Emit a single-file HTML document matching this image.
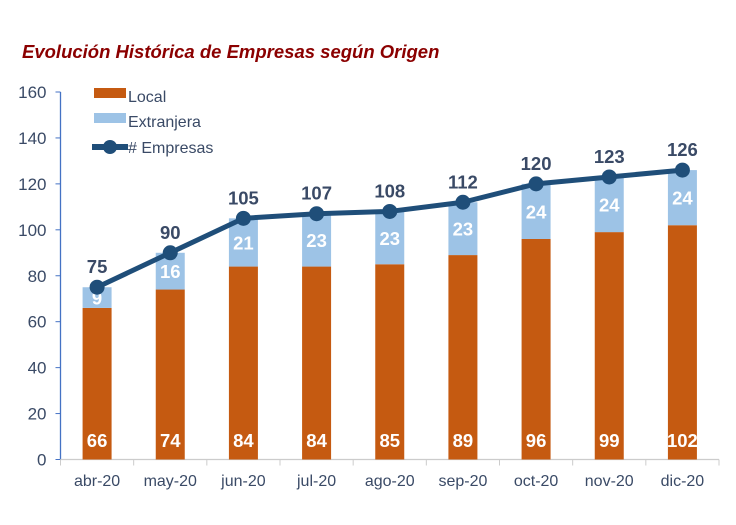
<!DOCTYPE html>
<html><head><meta charset="utf-8"><style>
body{margin:0;background:#fff;width:736px;height:520px;overflow:hidden;font-family:"Liberation Sans",sans-serif}
</style></head><body>
<svg id="c" width="736" height="520">
<text x="22" y="58" fill="#8b0000" font-size="18.5" font-weight="bold" font-style="italic">Evolución Histórica de Empresas según Origen</text>
</svg>
<script>
const categories=["abr-20","may-20","jun-20","jul-20","ago-20","sep-20","oct-20","nov-20","dic-20"];
const local=[66,74,84,84,85,89,96,99,102];
const extranjera=[9,16,21,23,23,23,24,24,24];
const totals=[75,90,105,107,108,112,120,123,126];
const yTicks=[0,20,40,60,80,100,120,140,160];
const NS="http://www.w3.org/2000/svg",svg=document.getElementById('c');
const x0=60.5,x1=719,y0=459.5,y1=92;
const step=(x1-x0)/categories.length;
const xc=i=>x0+step*(i+0.5);
const y=v=>y0-(v/160)*(y0-y1);
function mk(t,a,txt){const e=document.createElementNS(NS,t);for(const k in a)e.setAttribute(k,a[k]);if(txt!==undefined)e.textContent=txt;svg.appendChild(e);return e;}
yTicks.forEach(v=>{
 const t=mk('line',{x1:x0-5,x2:x0,y1:y(v),y2:y(v),stroke:'#4472c4'});
 
 
 const l=mk('text',{x:x0-14,y:y(v)+6,'text-anchor':'end','font-size':17,fill:'#3a4a66'},v);
 
 
});
const ya=mk('line',{x1:x0,x2:x0,y1:y1,y2:y0,stroke:'#4472c4','stroke-width':1.3});


const xa=mk('line',{x1:x0,x2:x1,y1:y0,y2:y0,stroke:'#cccccc','stroke-width':1.3});


for(let i=0;i<=categories.length;i++){const t=mk('line',{x1:x0+step*i,x2:x0+step*i,y1:y0,y2:y0+6,stroke:'#cccccc'});
 
 }
const bw=29;
categories.forEach((c,i)=>{
 const cx=xc(i);
 const b1=mk('rect',{x:cx-bw/2,y:y(local[i]),width:bw,height:y0-y(local[i]),fill:'#c55a11'});
 
 
 const top=local[i]+extranjera[i];
 const b2=mk('rect',{x:cx-bw/2,y:y(top),width:bw,height:y(local[i])-y(top),fill:'#9dc3e6'});
 
 
 const l1=mk('text',{x:cx,y:447,'text-anchor':'middle','font-size':18.5,'font-weight':'bold',fill:'#fff'},local[i]);
 
 
 const l2=mk('text',{x:cx,y:(y(local[i])+y(top))/2+7,'text-anchor':'middle','font-size':18.5,'font-weight':'bold',fill:'#fff'},extranjera[i]);
 
 
 const xl=mk('text',{x:cx,y:486,'text-anchor':'middle','font-size':16,fill:'#3a4a66'},c);
 
 
});
const pl=mk('polyline',{points:totals.map((v,i)=>xc(i)+','+y(v)).join(' '),fill:'none',stroke:'#1f4e79','stroke-width':5,'stroke-linejoin':'round'});


totals.forEach((v,i)=>{
 const p=mk('circle',{cx:xc(i),cy:y(v),r:7.5,fill:'#1f4e79'});
 
 
 const t=mk('text',{x:xc(i),y:y(v)-14,'text-anchor':'middle','font-size':18.5,'font-weight':'bold',fill:'#3a4a66'},v);
 
 
});
const lg=[["Local",'#c55a11',96],["Extranjera",'#9dc3e6',121]];
lg.forEach(([n,c,yy])=>{
 const r=mk('rect',{x:94,y:yy-8,width:32,height:10,fill:c});
 
 
 const t=mk('text',{x:128,y:yy+6,'font-size':16,fill:'#3a4a66'},n);
 
 
});
const ll=mk('line',{x1:92,x2:128,y1:147,y2:147,stroke:'#1f4e79','stroke-width':6});


const lc=mk('circle',{cx:110,cy:147,r:7,fill:'#1f4e79'});


const lt=mk('text',{x:128,y:153,'font-size':16,fill:'#3a4a66'},"# Empresas");


</script>
</body></html>
